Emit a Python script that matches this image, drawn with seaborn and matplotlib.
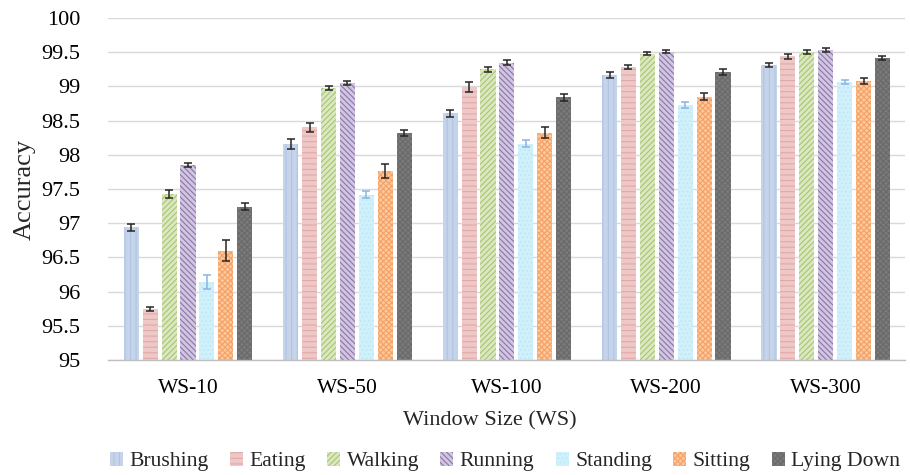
import numpy as np
import pandas as pd
import matplotlib
matplotlib.use("Agg")
import matplotlib.pyplot as plt
import seaborn as sns

# Data
window_sizes = ["WS-10", "WS-50", "WS-100", "WS-200", "WS-300"]
activities = ["Brushing", "Eating", "Walking", "Running", "Standing", "Sitting", "Lying Down"]

brushing = [96.94, 98.16, 98.61, 99.17, 99.32]
eating = [95.75, 98.40, 98.99, 99.28, 99.44]
walking = [97.43, 98.98, 99.25, 99.48, 99.50]
running = [97.85, 99.05, 99.35, 99.51, 99.53]
standing = [96.14, 97.42, 98.16, 98.73, 99.07]
sitting = [96.60, 97.76, 98.32, 98.85, 99.08]
lying_down = [97.24, 98.32, 98.84, 99.21, 99.41]

brushing_err = [0.05, 0.07, 0.05, 0.04, 0.03]
eating_err = [0.03, 0.07, 0.07, 0.03, 0.04]
walking_err = [0.06, 0.03, 0.04, 0.02, 0.03]
running_err = [0.03, 0.03, 0.03, 0.02, 0.03]
standing_err = [0.10, 0.05, 0.05, 0.04, 0.03]
sitting_err = [0.15, 0.10, 0.08, 0.05, 0.04]
lying_down_err = [0.05, 0.04, 0.05, 0.04, 0.03]

values = [brushing, eating, walking, running, standing, sitting, lying_down]
errors = [brushing_err, eating_err, walking_err, running_err, standing_err, sitting_err, lying_down_err]

rows = []
for act, vals, errs in zip(activities, values, errors):
    for ws, v, e in zip(window_sizes, vals, errs):
        rows.append({"ws": ws, "activity": act, "acc": v, "err": e})
df = pd.DataFrame(rows)

# fill colour, hatch colour, hatch pattern, error bar colour
styles = {
    "Brushing": ("#c6d4e9", "#b0c4e4", "|||", "#262626"),
    "Eating": ("#eec8c7", "#e0a9a8", "---", "#262626"),
    "Walking": ("#dbe7c3", "#a8c56c", "//////", "#262626"),
    "Running": ("#d1c6df", "#8d74ac", "\\\\\\\\\\\\", "#262626"),
    "Standing": ("#d0f0fb", "#bfe8f7", "....", "#8db3e2"),
    "Sitting": ("#fbc9a0", "#f7a062", "xxxxxx", "#262626"),
    "Lying Down": ("#7a7a7a", "#6a6a6a", "xxxxxx", "#262626"),
}

sns.set_theme(style="whitegrid")
plt.rcParams["font.family"] = ["Liberation Serif", "DejaVu Serif"]
plt.rcParams["hatch.linewidth"] = 0.8

fig = plt.figure(figsize=(9.1, 4.75), dpi=100)
ax = fig.add_axes([0.119, 0.242, 0.876, 0.72])

sns.barplot(data=df, x="ws", y="acc", hue="activity", order=window_sizes,
            hue_order=activities, width=0.83, gap=0.2, errorbar=None,
            legend=False, ax=ax)

bar_groups = list(ax.containers)
handles = []
for cont, act in zip(bar_groups, activities):
    face, hcol, hatch, ecol = styles[act]
    sub = df[df["activity"] == act].set_index("ws").loc[window_sizes]
    xs = []
    for bar in cont:
        bar.set_facecolor(face)
        bar.set_edgecolor(hcol)
        bar.set_linewidth(0)
        bar.set_hatch(hatch)
        xs.append(bar.get_x() + bar.get_width() / 2)
    handles.append(cont.patches[0])
    ax.errorbar(xs, sub["acc"].values, yerr=sub["err"].values, fmt="none",
                ecolor=ecol, elinewidth=1.1, capsize=3, capthick=1.1, zorder=5)

ticks = np.arange(95, 100.01, 0.5)
ax.set_ylim(95, 100)
ax.set_yticks(ticks)
ax.set_yticklabels([f"{t:g}" for t in ticks])
ax.set_xlim(-0.5, 4.5)
ax.grid(axis="y", color="#d9d9d9", linewidth=1)
ax.grid(axis="x", visible=False)
ax.set_axisbelow(True)
for s in ["top", "right", "left"]:
    ax.spines[s].set_visible(False)
ax.spines["bottom"].set_color("#bfbfbf")
ax.spines["bottom"].set_linewidth(1)
ax.tick_params(axis="x", length=0, labelsize=15.5, colors="black", pad=14)
ax.tick_params(axis="y", length=0, labelsize=16, colors="black", pad=20)

ax.set_xlabel("Window Size (WS)", fontsize=16, labelpad=9, x=0.478)
ax.set_ylabel("Accuracy", fontsize=19, labelpad=4)

fig.legend(handles, activities, loc="center", bbox_to_anchor=(0.555, 0.028),
           ncol=7, frameon=False, fontsize=15.6, handlelength=0.6, handleheight=0.6,
           handletextpad=0.3, columnspacing=0.98, borderpad=0)

fig.savefig("out.png", dpi=100)
